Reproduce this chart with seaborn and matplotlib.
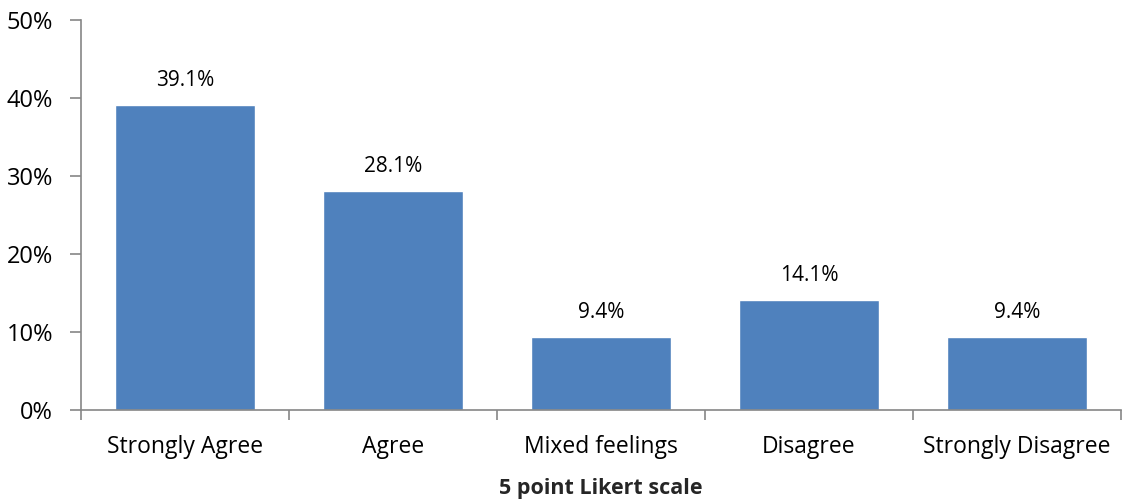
import numpy as np
import pandas as pd
import matplotlib
matplotlib.use("Agg")
import matplotlib.pyplot as plt
import seaborn as sns
from matplotlib.ticker import FixedLocator, PercentFormatter

# data
categories = ["Strongly Agree", "Agree", "Mixed feelings", "Disagree", "Strongly Disagree"]
values = [39.1, 28.1, 9.4, 14.1, 9.4]
y_ticks = [0, 10, 20, 30, 40, 50]

sns.set_theme(style="white")
plt.rcParams["font.family"] = ["Open Sans", "DejaVu Sans"]

axis_grey = "#868686"
bar_blue = "#4F81BD"

fig = plt.figure(figsize=(11.23, 4.99), dpi=100)
ax = fig.add_axes([81 / 1123, 1 - 410 / 499, 1040 / 1123, 390 / 499])

df = pd.DataFrame({"category": categories, "value": values})
sns.barplot(data=df, x="category", y="value", color=bar_blue, saturation=1,
            width=0.67, ax=ax)

ax.set_xlim(-0.5, len(categories) - 0.5)
ax.set_ylim(0, 50)
ax.set_yticks(y_ticks)
ax.yaxis.set_major_formatter(PercentFormatter(decimals=0))

# value labels above bars
for i, v in enumerate(values):
    ax.text(i, v + 1.8, f"{v:.1f}%", ha="center", va="bottom", fontsize=15, color="black")

# spines
for side in ["top", "right"]:
    ax.spines[side].set_visible(False)
for side in ["left", "bottom"]:
    ax.spines[side].set_color(axis_grey)
    ax.spines[side].set_linewidth(1.2)

# category labels without tick marks, boundary ticks between categories
ax.tick_params(axis="x", which="major", length=0, labelsize=16.5, pad=18, labelcolor="black")
ax.xaxis.set_minor_locator(FixedLocator(np.arange(-0.5, len(categories), 1.0)))
ax.tick_params(axis="x", which="minor", bottom=True, length=7, width=1.2,
               color=axis_grey, direction="out")
ax.tick_params(axis="y", which="major", left=True, length=8, width=1.2, color=axis_grey,
               direction="out", labelsize=17, pad=12, labelcolor="black")

ax.set_xlabel("5 point Likert scale", fontsize=15.5, fontweight="bold", labelpad=14)
ax.set_ylabel("")

fig.savefig("out.png", dpi=100, facecolor="white")
